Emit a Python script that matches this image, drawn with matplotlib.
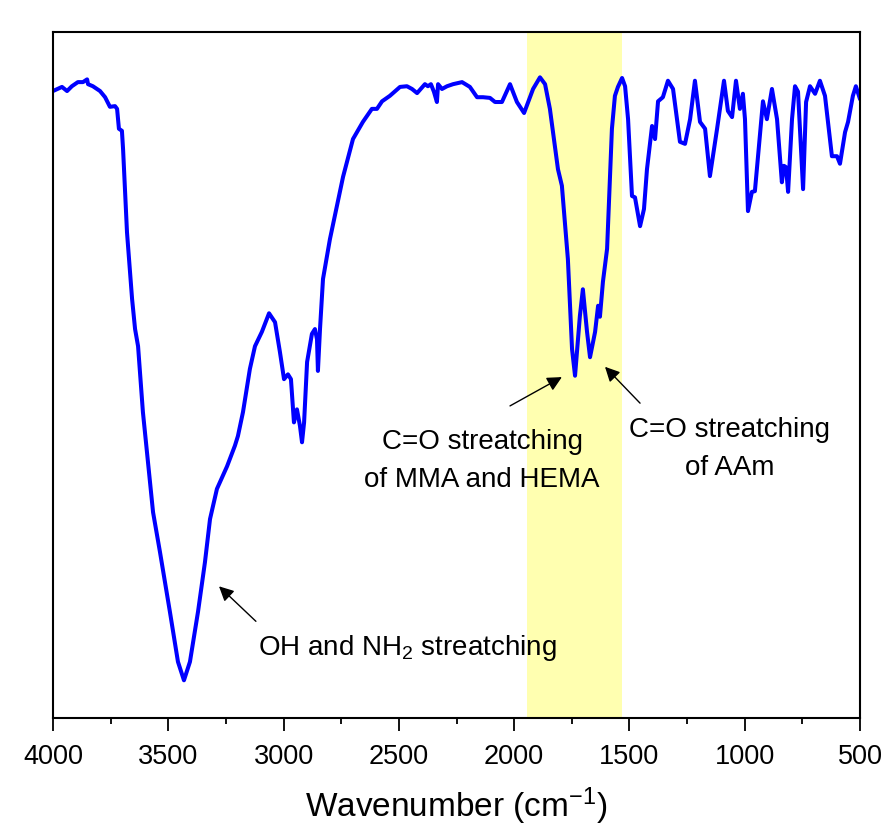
import numpy as np
import matplotlib
matplotlib.use("Agg")
import matplotlib.pyplot as plt

plt.rcParams['font.family'] = ['Liberation Sans', 'DejaVu Sans']
plt.rcParams['mathtext.fontset'] = 'custom'
plt.rcParams['mathtext.rm'] = 'Liberation Sans'
plt.rcParams['mathtext.it'] = 'Liberation Sans:italic'
plt.rcParams['mathtext.default'] = 'rm'

# FTIR spectrum (wavenumber in cm-1, transmittance a.u.)
wavenumber = [4000, 3961, 3939, 3918, 3892, 3870, 3852, 3848, 3827, 3809, 3796, 3774, 3753, 3731,
              3722, 3714, 3701, 3696, 3679, 3657, 3644, 3631, 3614, 3610, 3566, 3536, 3493, 3458,
              3432, 3406, 3371, 3341, 3319, 3289, 3245, 3211, 3198, 3176, 3146, 3124, 3094, 3063,
              3037, 3016, 2998, 2981, 2968, 2955, 2942, 2929, 2920, 2911, 2898, 2877, 2864, 2855,
              2851, 2842, 2829, 2799, 2742, 2699, 2656, 2617, 2595, 2573, 2539, 2495, 2465, 2443,
              2421, 2387, 2374, 2361, 2348, 2335, 2330, 2313, 2291, 2265, 2226, 2192, 2161, 2135,
              2105, 2083, 2053, 2018, 1988, 1957, 1918, 1888, 1866, 1845, 1810, 1793, 1767, 1749,
              1736, 1715, 1702, 1684, 1671, 1649, 1636, 1628, 1615, 1597, 1576, 1563, 1550, 1532,
              1519, 1506, 1489, 1476, 1454, 1437, 1424, 1402, 1389, 1376, 1355, 1333, 1311, 1281,
              1259, 1237, 1216, 1194, 1172, 1151, 1120, 1090, 1073, 1055, 1038, 1021, 1008, 999,
              986, 969, 956, 921, 904, 882, 860, 839, 830, 821, 812, 795, 782, 769, 747, 734, 717,
              695, 674, 652, 622, 600, 587, 565, 552, 531, 518, 500]
transmittance = [91.4, 92.0, 91.4, 92.1, 92.7, 92.7, 93.1, 92.4, 92.1, 91.7, 91.4, 90.5, 89.1, 89.2,
                 88.8, 85.9, 85.6, 82.9, 70.8, 61.1, 56.7, 54.2, 46.5, 44.6, 30.0, 24.2, 15.5, 8.2,
                 5.5, 8.2, 15.5, 22.7, 29.0, 33.4, 36.7, 39.7, 41.1, 44.6, 50.9, 54.2, 56.3, 59.0,
                 57.7, 53.4, 49.4, 50.1, 49.4, 43.1, 45.0, 42.6, 40.2, 43.1, 51.9, 56.0, 56.7, 55.2,
                 50.6, 56.7, 64.0, 69.8, 78.9, 84.4, 86.9, 88.8, 88.8, 89.9, 90.7, 92.0, 92.1, 91.7,
                 91.1, 92.4, 92.1, 92.4, 91.3, 89.8, 92.4, 91.7, 92.1, 92.4, 92.7, 92.0, 90.5, 90.5,
                 90.4, 89.8, 89.8, 92.4, 89.8, 88.2, 91.7, 93.4, 92.4, 88.8, 80.0, 77.6, 66.9, 53.8,
                 49.9, 58.6, 62.5, 56.3, 52.6, 56.3, 60.1, 58.5, 63.6, 68.4, 85.9, 90.7, 92.0, 93.3,
                 92.1, 87.3, 76.1, 75.9, 71.7, 74.2, 80.0, 86.3, 84.4, 89.9, 90.5, 92.9, 91.7, 84.0,
                 83.7, 87.3, 92.9, 86.9, 85.9, 79.0, 85.9, 92.9, 88.5, 87.6, 92.9, 88.8, 91.0, 87.3,
                 73.9, 76.7, 76.8, 89.9, 87.3, 91.7, 87.3, 78.1, 80.5, 80.3, 76.7, 87.3, 92.1, 91.3,
                 77.1, 89.8, 92.1, 91.0, 92.9, 90.7, 81.9, 81.9, 80.8, 85.4, 86.9, 90.7, 92.1, 90.2]

band_start, band_end = 1943, 1533

fig = plt.figure(figsize=(8.83, 8.28), dpi=100)
ax = fig.add_axes([0.060, 0.1316, 0.914, 0.8285])

ax.axvspan(band_start, band_end, color='#ffffb0', lw=0, zorder=0)
ax.plot(wavenumber, transmittance, color='#0000ff', lw=2.9, solid_joinstyle='round',
        solid_capstyle='round', zorder=2)

ax.set_xlim(4000, 500)
ax.set_ylim(0, 100)
ax.set_xticks(np.arange(4000, 499, -500))
ax.set_xticks(np.arange(3750, 500, -500), minor=True)
ax.set_yticks([])
ax.tick_params(axis='x', which='major', direction='out', length=9.5, width=1.3, labelsize=19.5, pad=8.5)
ax.tick_params(axis='x', which='minor', direction='out', length=4.5, width=1.3)
for s in ax.spines.values():
    s.set_linewidth(1.5)
ax.set_xlabel('Wavenumber (cm$^{-1}$)', fontsize=24, labelpad=11)

arrow = dict(arrowstyle='-|>', color='black', lw=1.0, mutation_scale=22, shrinkA=0, shrinkB=0)
ax.annotate('', xy=(3280, 19.2), xytext=(3120, 14.1), arrowprops=arrow)
ax.annotate('', xy=(1793, 49.7), xytext=(2018, 45.5), arrowprops=arrow)
ax.annotate('', xy=(1606, 51.2), xytext=(1454, 45.9), arrowprops=arrow)
ax.text(3111, 10.3, 'OH and NH$_2$ streatching', fontsize=20, ha='left', va='center')
ax.text(2139, 37.6, 'C=O streatching\nof MMA and HEMA', fontsize=20, ha='center', va='center',
        linespacing=1.62)
ax.text(1064, 39.4, 'C=O streatching\nof AAm', fontsize=20, ha='center', va='center',
        linespacing=1.62)

fig.savefig('out.png', dpi=100)
